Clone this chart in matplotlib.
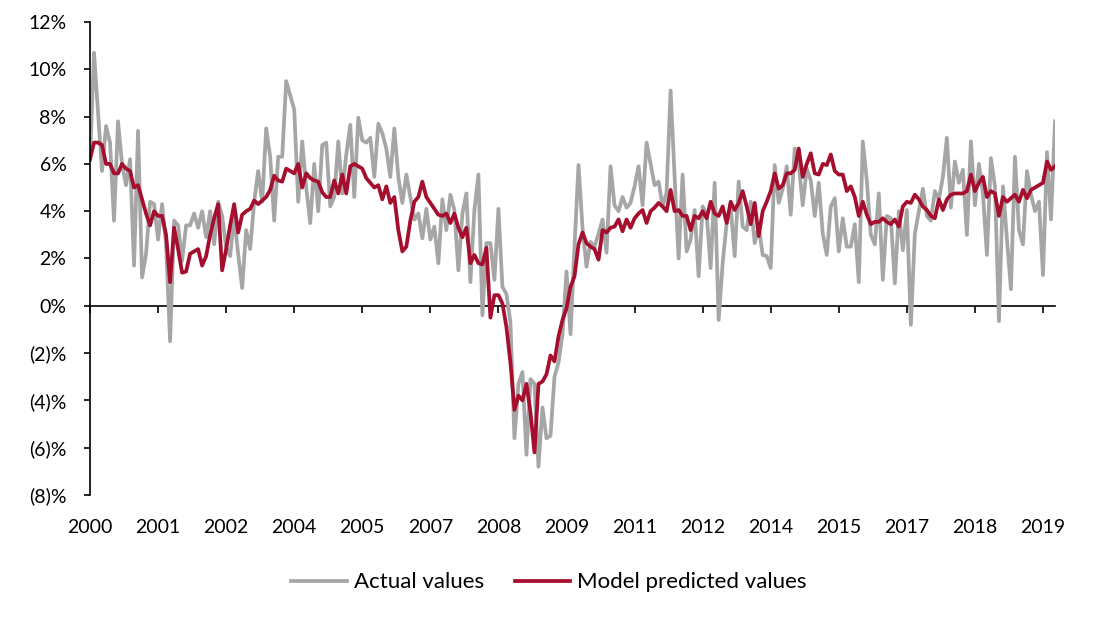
import numpy as np
import matplotlib
matplotlib.use("Agg")
import matplotlib.pyplot as plt

# monthly series, values in %
actual = [
    6.2, 10.7, 8.2, 5.7, 7.6, 6.9, 3.6, 7.8, 6.0, 5.1,
    6.2, 1.7, 7.4, 1.2, 2.2, 4.4, 4.3, 2.8, 4.3, 2.6,
    -1.5, 3.6, 3.4, 1.9, 3.4, 3.4, 3.9, 3.3, 4.0, 2.9,
    4.0, 2.6, 4.4, 3.8, 2.5, 2.1, 3.8, 2.2, 0.75, 3.2,
    2.4, 4.4, 5.7, 4.4, 7.5, 6.3, 3.6, 6.3, 6.3, 9.5,
    8.9, 8.3, 4.4, 6.95, 5.0, 3.5, 6.0, 4.0, 6.8, 6.9,
    4.2, 4.6, 6.95, 4.75, 6.4, 7.65, 4.6, 7.95, 7.0, 6.9,
    7.1, 5.45, 7.7, 7.3, 6.65, 5.45, 7.5, 5.45, 4.35, 5.55,
    4.6, 3.65, 3.9, 2.85, 4.1, 2.8, 3.35, 1.8, 4.5, 3.2,
    4.7, 4.05, 1.5, 3.9, 4.75, 1.0, 4.05, 5.55, -0.4, 2.65,
    2.65, 1.1, 4.1, 0.8, 0.5, -0.7, -5.6, -3.3, -2.8, -6.3,
    -3.1, -3.3, -6.8, -4.3, -5.6, -5.5, -3.0, -2.4, -1.2, 1.45,
    -1.2, 2.5, 5.95, 3.3, 1.65, 2.7, 2.5, 3.05, 3.65, 2.25,
    5.9, 4.25, 4.0, 4.6, 4.15, 4.35, 5.05, 5.9, 4.25, 6.9,
    6.0, 5.1, 5.25, 4.2, 4.8, 9.1, 5.45, 2.0, 5.55, 2.3,
    2.8, 4.05, 1.25, 4.2, 3.9, 1.6, 5.2, -0.6, 1.8, 3.5,
    4.2, 2.1, 5.25, 3.35, 3.2, 4.4, 2.65, 3.35, 2.15, 2.1,
    1.6, 5.95, 4.35, 4.95, 5.9, 3.85, 6.65, 6.0, 4.25, 5.8,
    5.3, 3.8, 5.2, 3.05, 2.15, 4.2, 4.55, 2.3, 3.7, 2.5,
    2.5, 3.45, 1.0, 6.95, 5.3, 3.0, 2.6, 4.75, 1.1, 3.8,
    3.7, 0.95, 4.0, 2.35, 4.05, -0.8, 3.05, 4.0, 4.95, 3.8,
    3.6, 4.85, 4.5, 5.45, 7.1, 4.15, 6.1, 5.2, 5.75, 3.0,
    6.95, 4.25, 6.0, 4.75, 2.15, 6.25, 5.05, -0.65, 5.05, 2.8,
    0.7, 6.3, 3.2, 2.6, 5.7, 4.7, 4.0, 4.4, 1.3, 6.5,
    3.65, 7.8,
]

predicted = [
    6.2, 6.9, 6.9, 6.8, 6.0, 6.0, 5.6, 5.6, 6.0, 5.8,
    5.7, 5.0, 5.1, 4.5, 3.9, 3.4, 4.0, 3.8, 3.8, 3.0,
    1.0, 3.3, 2.4, 1.4, 1.45, 2.2, 2.3, 2.4, 1.7, 2.1,
    3.0, 3.7, 4.3, 1.5, 2.4, 3.4, 4.3, 3.1, 3.85, 4.0,
    4.1, 4.45, 4.3, 4.45, 4.6, 4.9, 5.5, 5.3, 5.25, 5.8,
    5.7, 5.6, 6.0, 5.0, 5.6, 5.4, 5.3, 5.25, 4.8, 4.6,
    4.6, 5.3, 4.75, 5.55, 4.75, 5.9, 6.0, 5.9, 5.8, 5.4,
    5.2, 5.0, 5.1, 4.5, 5.05, 4.35, 4.6, 3.2, 2.3, 2.5,
    3.6, 4.4, 4.6, 5.25, 4.6, 4.35, 4.1, 3.85, 3.8, 3.9,
    3.5, 3.9, 3.3, 2.9, 3.3, 1.8, 2.15, 1.8, 1.75, 2.45,
    -0.5, 0.45, 0.45, 0.1, -0.9, -2.4, -4.4, -3.8, -4.0, -3.3,
    -4.5, -6.2, -3.3, -3.2, -2.9, -2.1, -2.35, -1.3, -0.6, -0.1,
    0.8, 1.25, 2.6, 3.1, 2.65, 2.5, 2.4, 1.95, 3.2, 3.1,
    3.3, 3.35, 3.65, 3.15, 3.65, 3.3, 3.7, 3.9, 4.05, 3.5,
    4.0, 4.15, 4.35, 4.2, 4.0, 4.9, 4.0, 4.05, 3.8, 3.8,
    3.2, 3.8, 3.7, 4.0, 3.7, 4.4, 3.9, 3.8, 4.2, 3.5,
    4.4, 4.05, 4.35, 4.85, 4.2, 3.45, 4.35, 2.95, 4.0, 4.4,
    4.85, 5.6, 4.95, 5.1, 5.6, 5.6, 5.75, 6.65, 5.45, 6.0,
    6.45, 5.6, 5.55, 6.0, 5.95, 6.4, 5.7, 5.55, 5.55, 4.85,
    5.05, 4.6, 3.8, 4.4, 3.85, 3.45, 3.55, 3.55, 3.7, 3.55,
    3.45, 3.65, 3.35, 4.2, 4.4, 4.35, 4.7, 4.5, 4.2, 4.05,
    3.8, 3.7, 4.5, 4.05, 4.5, 4.7, 4.75, 4.75, 4.75, 4.85,
    5.55, 4.85, 5.2, 5.45, 4.6, 4.85, 4.75, 3.8, 4.6, 4.4,
    4.55, 4.7, 4.4, 4.9, 4.55, 4.9, 5.0, 5.1, 5.2, 6.1,
    5.75, 5.9,
]

year_labels = ["2000", "2001", "2002", "2004", "2005", "2007", "2008", "2009",
               "2011", "2012", "2014", "2015", "2017", "2018", "2019"]
label_step = 17

y_ticks = [12, 10, 8, 6, 4, 2, 0, -2, -4, -6, -8]


def pct_label(v):
    if v < 0:
        return f"({abs(v)})%"
    return f"{v}%"


plt.rcParams["font.family"] = ["Lato", "DejaVu Sans"]
plt.rcParams["font.size"] = 14

GRAY = "#A6A6A6"
RED = "#A50E2D"

fig = plt.figure(figsize=(10.98, 6.28), dpi=100)
ax = fig.add_axes([90 / 1098, 1 - 495 / 628, 965 / 1098, 473 / 628])

x = np.arange(len(actual))
ax.plot(x, actual, color=GRAY, lw=2.7, label="Actual values", solid_joinstyle="round")
ax.plot(x, predicted, color=RED, lw=2.7, label="Model predicted values", solid_joinstyle="round")

ax.set_xlim(0, len(actual) - 1)
ax.set_ylim(-8, 12)

# y axis
ax.set_yticks(y_ticks)
ax.set_yticklabels([pct_label(v) for v in y_ticks])
ax.tick_params(axis="y", direction="out", length=4, width=1.2, pad=13, colors="black")
for s in ["top", "right", "bottom"]:
    ax.spines[s].set_visible(False)
ax.spines["left"].set_linewidth(1.2)

# year labels at the bottom of the plot
ticks = [i * label_step for i in range(len(year_labels))]
ax.set_xticks(ticks)
ax.set_xticklabels(year_labels)
ax.tick_params(axis="x", length=0, pad=17)

# zero line carrying the tick marks
zero_ax = ax.secondary_xaxis(8 / 20)
zero_ax.set_xticks(ticks)
zero_ax.set_xticklabels([])
zero_ax.tick_params(axis="x", direction="out", length=5, width=1.2)
zero_ax.spines["bottom"].set_linewidth(1.2)

fig.legend(loc="lower center", bbox_to_anchor=(0.5, 0.025), ncol=2, frameon=False,
           fontsize=16, handlelength=2.5, columnspacing=1.4, handletextpad=0.3)

fig.savefig("out.png", dpi=100)
